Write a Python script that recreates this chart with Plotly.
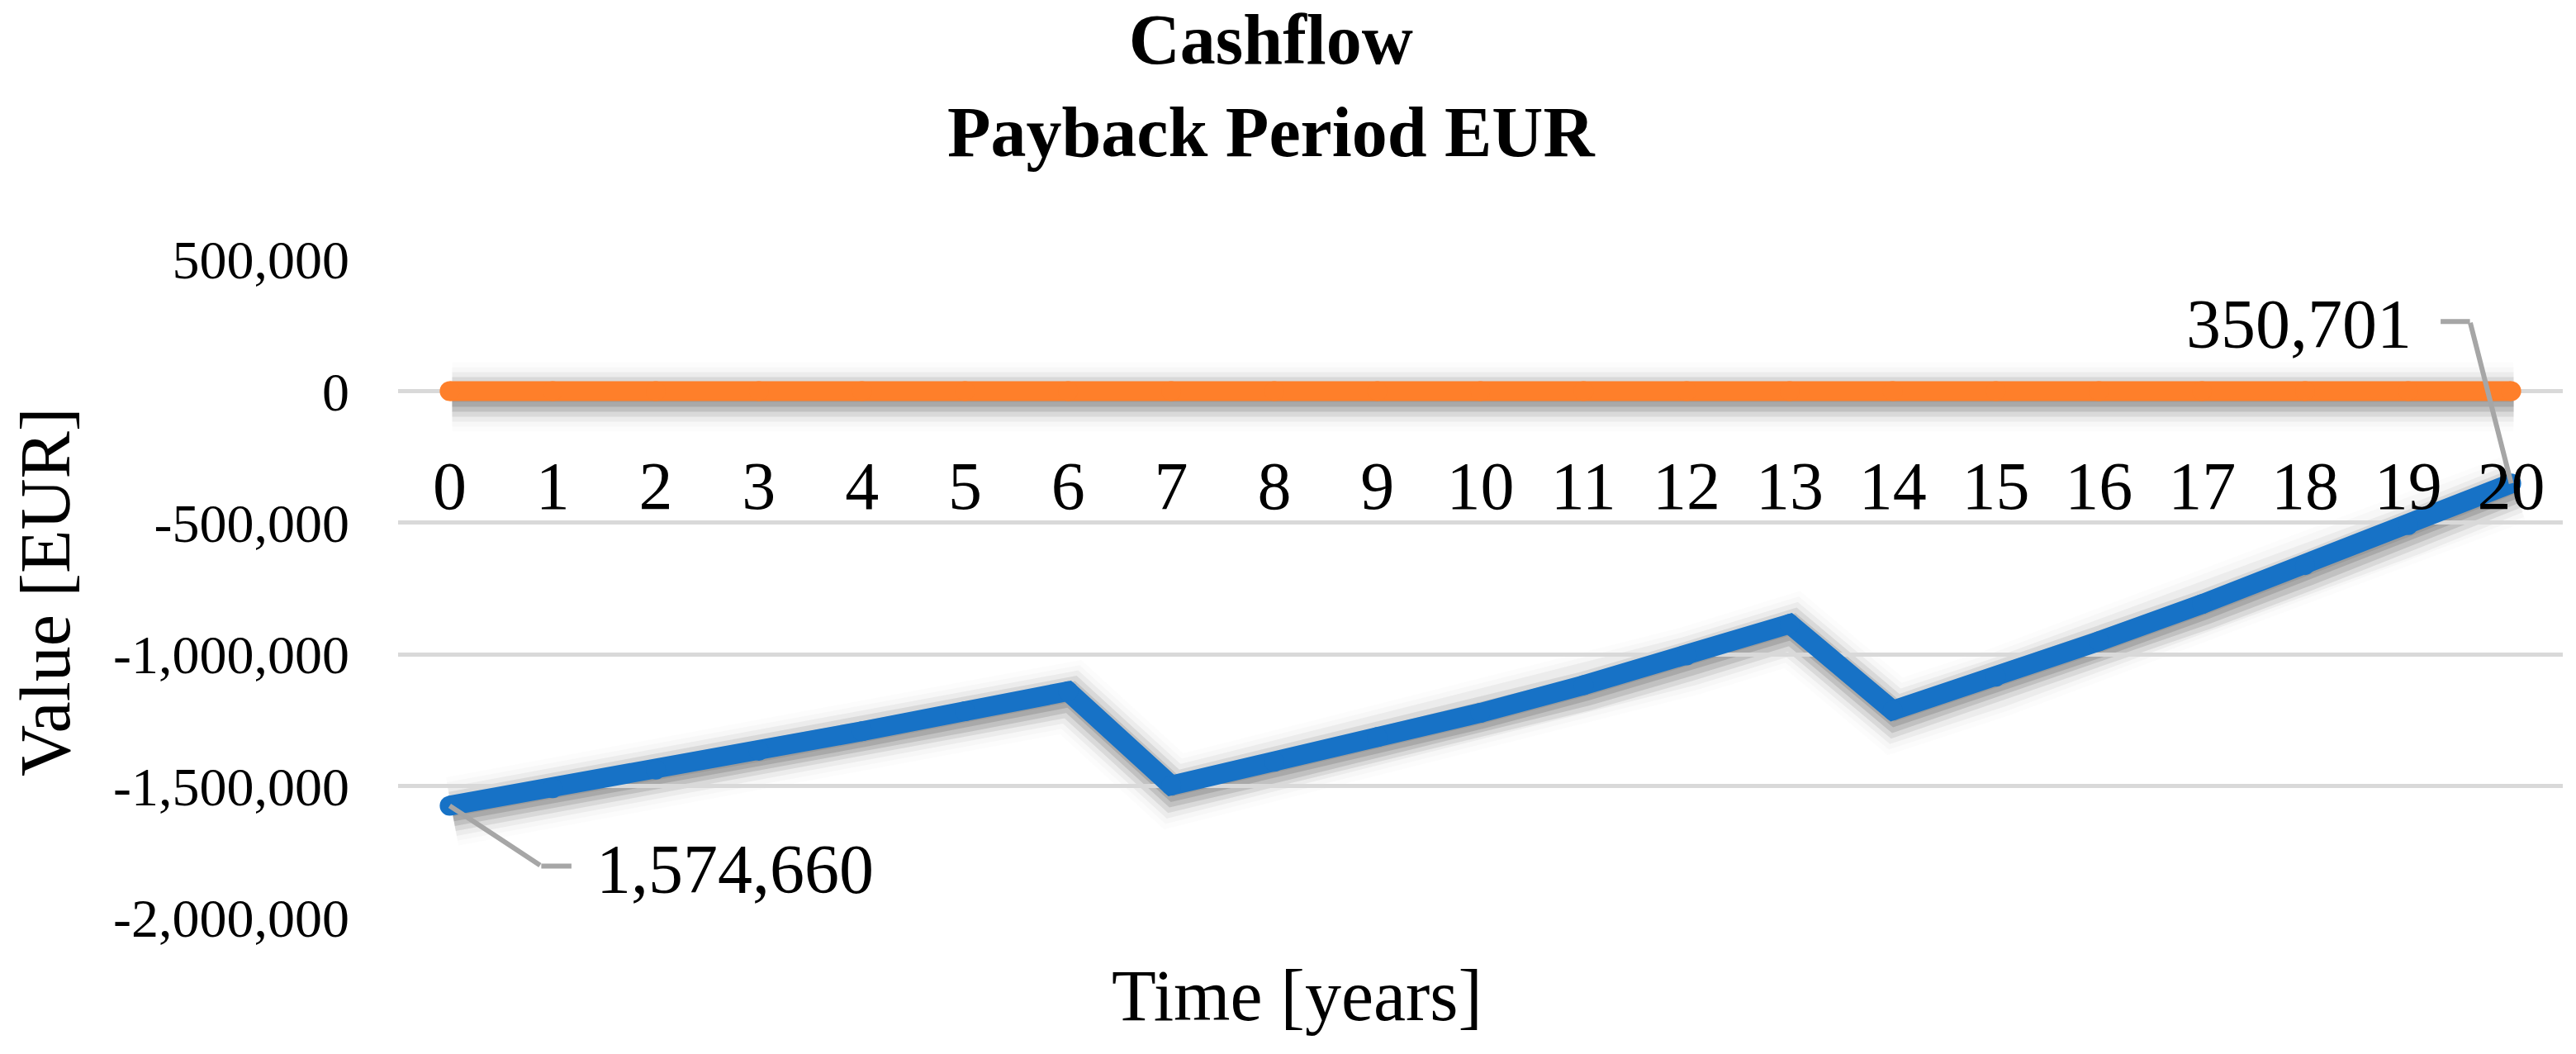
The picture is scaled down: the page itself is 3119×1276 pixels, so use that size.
import plotly.graph_objects as go

# data
years = [0, 1, 2, 3, 4, 5, 6, 7, 8, 9, 10, 11, 12, 13, 14, 15, 16, 17, 18, 19, 20]
year_labels = [str(y) for y in years]
cashflow = [-1574660, -1508000, -1438000, -1366000, -1292000, -1216000, -1140000,
            -1498000, -1408000, -1314000, -1222000, -1117000, -1004000, -884000,
            -1213000, -1085000, -950000, -809000, -661000, -509000, -350701]
payback = [0] * len(years)

y_ticks = [500000, 0, -500000, -1000000, -1500000, -2000000]
y_ticktext = ["500,000", "0", "-500,000", "-1,000,000", "-1,500,000", "-2,000,000"]

BLUE = "#1772C6"
ORANGE = "#FE7F2A"
GREY = "#A6A6A6"
FONT = "Liberation Serif, Times New Roman, serif"

W, H = 3119, 1276
L, R, T, B = 482, 13, 314, 158
DX, DY = 3, 7  # drop shadow offset in px
pw = W - L - R
ph = H - T - B
x_dom = [0, 1 - DX / pw]
y_dom = [DY / ph, 1]
y_range = [-2000000, 500000]
x_range = [-0.5, 20.5]


def py(px):
    # page pixel row -> paper y
    return (H - B - px) / ph


def pxx(px):
    # page pixel column -> paper x
    return (px - L) / pw


fig = go.Figure()

# blurred drop shadow: stacked translucent strokes on a shifted, hidden copy of the axes
shadow_layers = [(84, 0.012), (72, 0.02), (60, 0.045), (48, 0.08), (36, 0.11), (24, 0.12), (12, 0.08)]
for w, a in shadow_layers:
    for series in (payback, cashflow):
        fig.add_trace(go.Scatter(x=years, y=series, mode="lines", xaxis="x", yaxis="y",
                                 line=dict(color=f"rgba(0,0,0,{a})", width=w),
                                 hoverinfo="skip", showlegend=False))

fig.add_trace(go.Scatter(x=years, y=payback, mode="lines+markers", xaxis="x2", yaxis="y2",
                         line=dict(color=ORANGE, width=24),
                         marker=dict(color=ORANGE, size=24, line=dict(width=0)),
                         name="Payback", showlegend=False))
fig.add_trace(go.Scatter(x=years, y=cashflow, mode="lines+markers", xaxis="x2", yaxis="y2",
                         line=dict(color=BLUE, width=24),
                         marker=dict(color=BLUE, size=24, line=dict(width=0)),
                         name="Cashflow", showlegend=False))

zero_pos = y_dom[0] + (0 - y_range[0]) / (y_range[1] - y_range[0]) * (y_dom[1] - y_dom[0])

fig.update_layout(
    width=W, height=H,
    margin=dict(l=L, r=R, t=T, b=B),
    paper_bgcolor="white", plot_bgcolor="rgba(0,0,0,0)",
    font=dict(family=FONT, color="black"),
    xaxis=dict(domain=[1 - x_dom[1], 1], range=x_range, visible=False, anchor="y"),
    yaxis=dict(domain=[0, 1 - y_dom[0]], range=y_range, visible=False, anchor="x"),
    xaxis2=dict(domain=x_dom, range=x_range, anchor="free", position=zero_pos,
                tickvals=years, ticktext=year_labels, tickfont=dict(size=82),
                showgrid=False, zeroline=False, showline=False, ticks="",
                ticklabelstandoff=60),
    yaxis2=dict(domain=y_dom, range=y_range, anchor="x2",
                tickvals=y_ticks, ticktext=y_ticktext, tickfont=dict(size=66),
                showgrid=True, gridcolor="#D9D9D9", gridwidth=5,
                zeroline=False, showline=False, ticks="", ticklabelstandoff=58),
)

# chart title
fig.add_annotation(text="<b>Cashflow</b><br><b>Payback Period EUR</b>",
                   xref="paper", yref="paper", x=pxx(1539), y=py(104),
                   xanchor="center", yanchor="middle", showarrow=False,
                   font=dict(size=86))

# x / y axis titles
fig.add_annotation(text="Time [years]", xref="paper", yref="paper",
                   x=pxx(1570), y=py(1205),
                   xanchor="center", yanchor="middle", showarrow=False,
                   font=dict(size=88))
fig.add_annotation(text="Value [EUR]", xref="paper", yref="paper",
                   x=pxx(55), y=py(717), textangle=-90,
                   xanchor="center", yanchor="middle", showarrow=False,
                   font=dict(size=86))


# data labels with elbow leader lines
def data_label(i, dx, dy, run, tx, ty, anchor):
    xv, yv = years[i], cashflow[i]
    fig.add_annotation(x=xv, y=yv, xref="x2", yref="y2", text="", showarrow=True,
                       ax=dx, ay=dy, arrowhead=0, arrowwidth=6, arrowcolor=GREY, standoff=0)
    fig.add_annotation(x=xv, y=yv, xref="x2", yref="y2", text="", showarrow=True,
                       xshift=dx, yshift=-dy, ax=run, ay=0,
                       arrowhead=0, arrowwidth=6, arrowcolor=GREY, standoff=0)
    fig.add_annotation(x=xv, y=yv, xref="x2", yref="y2", text=f"{abs(yv):,}",
                       showarrow=False, xshift=tx, yshift=ty, xanchor=anchor,
                       yanchor="middle", font=dict(size=84))


data_label(0, 111, 73, 38, 176, -77, "left")
data_label(20, -50, -196, -37, -119, 193, "right")

fig.write_html("out.html", config={"displayModeBar": False},
               post_script="document.body.style.margin='0px';")
